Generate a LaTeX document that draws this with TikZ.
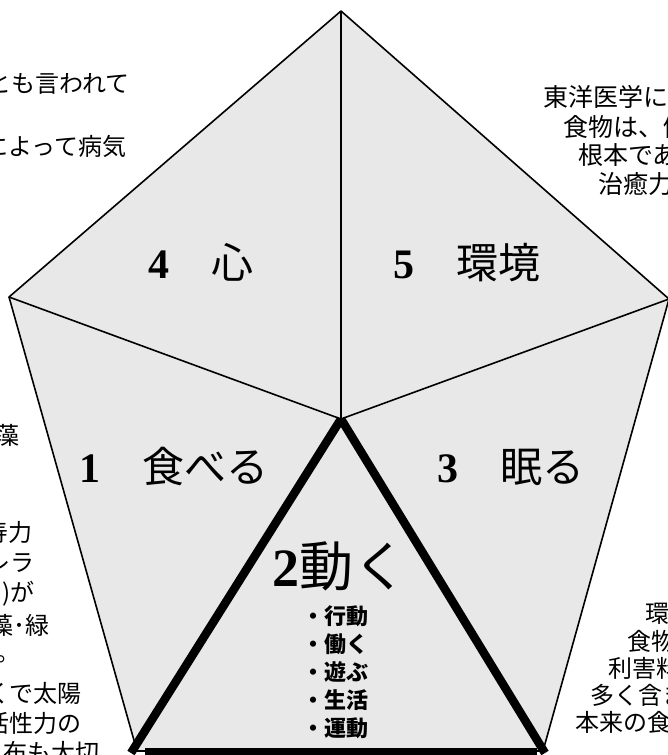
\documentclass[tikz,border=0pt]{standalone}
\usepackage{fontspec}
\setmainfont{Noto Sans CJK JP}
\newfontfamily\tnr{Liberation Serif}
\definecolor{pentfill}{RGB}{232,232,232}
\tikzset{
  side/.style={font=\fontsize{24}{24}\selectfont, inner sep=0pt, text height=21pt, text depth=3pt},
  sider/.style={font=\fontsize{25}{25}\selectfont, inner sep=0pt, text height=22pt, text depth=3pt, anchor=west},
  big/.style={font=\fontsize{42}{42}\selectfont, inner sep=0pt, text height=37pt, text depth=5pt},
  huge/.style={font=\fontsize{54}{54}\selectfont, inner sep=0pt, text height=47.5pt, text depth=6.5pt},
  act/.style={font=\fontsize{22}{22}\selectfont\bfseries, inner sep=0pt, text height=19.4pt, text depth=2.6pt, anchor=west},
  pentedge/.style={line width=1.6pt, line join=round},
  heavyline/.style={line width=8.5pt, line cap=butt, black}
}
\newcommand{\dg}[1]{{\tnr\bfseries #1}}
\begin{document}
\begin{tikzpicture}[x=1pt,y=-1pt]
\useasboundingbox (0,0) rectangle (668,755);
\clip (0,0) rectangle (668,755);
% side texts (partly outside the frame)
\node[side,anchor=east] (l1) at (130,83) {とも言われて};
\node[side,anchor=east] (l2) at (127,146) {によって病気};
\node[side,anchor=east] (l3) at (20,435) {藻};
\node[side,anchor=east] (l4) at (33,532) {寿力};
\node[side,anchor=east] (l5) at (35,562) {レラ};
\node[side,anchor=east] (l6) at (35,592) {)が};
\node[side,anchor=east] (l7) at (50,625) {藻･緑};
\node[side,anchor=east] (l8) at (21,652) {。};
\node[side,anchor=east] (l9) at (82,693) {くで太陽};
\node[side,anchor=east] (l10) at (82,723) {活性力の};
\node[side,anchor=east] (l11) at (100,752) {布も大切};
\node[sider] (r1) at (543,97) {東洋医学に};
\node[sider] (r2) at (563,127) {食物は、健};
\node[sider] (r3) at (578,155) {根本であ};
\node[sider] (r4) at (598,184) {治癒力};
\node[side,anchor=west] (r5) at (645,613) {環};
\node[side,anchor=west] (r6) at (627,641) {食物};
\node[side,anchor=west] (r7) at (608,668) {利害料};
\node[side,anchor=west] (r8) at (590,695) {多く含ま};
\node[side,anchor=west] (r9) at (575,722) {本来の食};
% pentagon
\coordinate (T) at (341,11);
\coordinate (L) at (9,297);
\coordinate (R) at (669,299);
\coordinate (BL) at (137,751);
\coordinate (BR) at (543,751);
\coordinate (C) at (341,419);
\filldraw[pentedge,fill=pentfill] (T) -- (R) -- (BR) -- (BL) -- (L) -- cycle;
\draw[pentedge] (C) -- (T);
\draw[pentedge] (C) -- (L);
\draw[pentedge] (C) -- (R);
% heavy triangle
\coordinate (TL) at (131,753);
\coordinate (TR) at (545,753);
\coordinate (B1) at (145,752);
\coordinate (B2) at (537,752);
\draw[heavyline] (C) -- (TL);
\draw[heavyline] (C) -- (TR);
\draw[heavyline] (B1) -- (B2);
% labels
\node[big] (s4) at (201,262) {\dg{4}　心};
\node[big] (s5) at (467,262) {\dg{5}　環境};
\node[big] (s1) at (174,466) {\dg{1}　食べる};
\node[big] (s3) at (511,466) {\dg{3}　眠る};
\node[huge] (s2) at (340,566) {\dg{2}動く};
\node[act] (a1) at (302,616) {・行動};
\node[act] (a2) at (302,644) {・働く};
\node[act] (a3) at (302,672) {・遊ぶ};
\node[act] (a4) at (302,700) {・生活};
\node[act] (a5) at (302,728) {・運動};
\end{tikzpicture}
\end{document}
